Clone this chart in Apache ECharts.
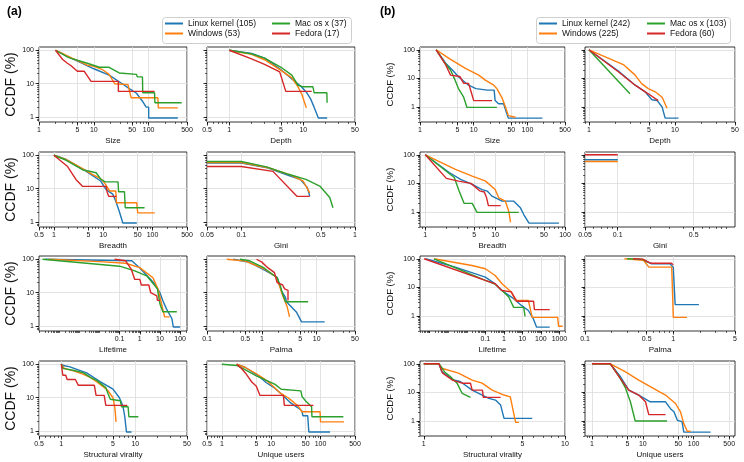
<!DOCTYPE html>
<html lang="en">
<head>
<meta charset="UTF-8" />
<title>CCDF</title>
<script src="https://cdn.jsdelivr.net/npm/echarts@6/dist/echarts.min.js"></script>
<style>
  html, body { margin: 0; padding: 0; background: #fff; }
  #chart { width: 744px; height: 462px; }
</style>
</head>
<body>
<div id="chart"></div>
<script>
// every panel array holds 4 curves: Linux kernel, Windows, Mac os x, Fedora
// points are [x, CCDF %]
const namesA = ["Linux kernel (105)", "Windows (53)", "Mac os x (37)", "Fedora (17)"];
const namesB = ["Linux kernel (242)", "Windows (225)", "Mac os x (103)", "Fedora (60)"];
const colors = ["#1f77b4", "#ff7f0e", "#2ca02c", "#d62728"];

const yTicks = [1, 10, 100];
const ticksSize = [1, 5, 10, 50, 100, 500];
const ticksDepthA = [0.5, 1, 5, 10, 50];
const ticksDepthB = [1, 5, 10, 50];
const ticksBreadthA = [0.5, 1, 5, 10, 50, 100, 500];
const ticksBreadthB = [1, 5, 10, 50, 100];
const ticksGiniA = [0.05, 0.1, 0.5, 1];
const ticksGiniB = [0.05, 0.1, 0.5];
const ticksLifeA = [0.1, 1, 10, 100];
const ticksLifeB = [0.1, 1, 10, 100, 1000];
const ticksPalmaA = [0.1, 0.5, 1, 5, 10, 50];
const ticksPalmaB = [0.1, 0.5, 1, 5];
const ticksSvA = [0.5, 1, 5, 10, 50];
const ticksSvB = [1, 5, 10];
const ticksUsers = [0.5, 1, 5, 10, 50, 100, 500];
const ticksUsersB = [1, 5, 10, 50, 100, 500];

// ---- panel (a)
const aSize = [
  [[2,100],[3,70],[5.4,45],[10,28],[19,18],[33,10],[45,7],[60,5.2],[77,3],[90,2],[100,2],[100,0.95],[340,0.95]],
  [[2,100],[4,58],[7.6,36],[10,33],[14,27],[19,19],[24,10],[42,9.4],[45,5.7],[48,3.8],[147,3.8],[150,1.9],[340,1.9]],
  [[2,100],[3.5,60],[7.6,41],[12.6,31],[19,31],[29,21],[60,19],[62,16],[77,16],[78,5.4],[128,5.4],[130,2.7],[400,2.7]],
  [[2,100],[2.7,53],[3.3,41],[3.8,35],[5,23.5],[6.7,23.5],[8.9,11.8],[28,11.8],[28,5.9],[128,5.9]]
];
const aDepth = [
  [[1,100],[2,80],[3,58],[5,26],[7,14],[9.5,8],[11,5.6],[12.5,3.6],[14,2],[16,0.95],[21,0.95]],
  [[1,100],[2,75],[3,52],[5,25],[7,15],[8.5,8],[9.5,5],[11,1.9]],
  [[1,100],[2,78],[3,58],[5,31],[7,18],[8.5,9],[10,8.1],[13.5,8.1],[14,5.4],[20.8,5.4],[21,2.7]],
  [[1,100],[2,55],[3,38],[4.8,22.6],[5.8,5.9],[13,5.9]]
];
const aBreadth = [
  [[1,100],[1.75,76],[3.8,39],[8.9,17],[11.5,9.4],[15.6,6.9],[18,4.2],[21,2.2],[25,0.95],[48,0.95]],
  [[1,100],[1.75,75],[3.8,40],[6,27],[8.9,20],[11,14],[13.5,8.6],[18,8.6],[18.5,3.8],[48,3.8],[50,1.9],[111,1.9]],
  [[1,100],[1.75,72],[3.8,37],[7.2,30],[9,19],[11,16],[20,16],[20.5,8.1],[27,8.1],[28,2.7],[69,2.7]],
  [[1,100],[1.9,46],[2.8,19],[3.8,11.8],[11.5,11.8],[12,8],[13,5.9],[18.7,5.9]]
];
const aGini = [
  [[0.05,58],[0.1,58],[0.17,42],[0.27,24],[0.33,19],[0.38,11],[0.4,6]],
  [[0.05,60],[0.1,60],[0.17,43],[0.27,26],[0.35,17],[0.4,7.5]],
  [[0.05,65],[0.1,65],[0.167,45],[0.26,27],[0.37,19],[0.49,12],[0.6,5.5],[0.64,2.7]],
  [[0.05,46],[0.1,46],[0.19,33],[0.31,5.9],[0.4,5.9]]
];
const aLife = [
  [[2e-5,100],[0.4,90],[1,55],[4.9,20],[10,10],[14,5.8],[21,3.3],[39,1.7],[46,0.95],[100,0.95]],
  [[3e-5,100],[0.01,85],[0.2,76],[1,56],[4.5,28],[8,13],[11.5,5.2],[17,1.9],[30,1.9]],
  [[1.5e-5,100],[0.1,62],[0.56,45],[2.2,32],[7.5,13],[10,4.6],[14,2.7],[69,2.7]],
  [[0.056,100],[0.2,90],[0.38,50],[0.56,25],[1,25],[1.2,17],[2.8,17],[3.5,10],[7,8],[7.5,5.9],[10,5.9]]
];
const aPalma = [
  [[0.3,100],[0.57,83],[1.06,50],[1.9,29],[2.3,11],[2.7,7.3],[2.8,5.4],[4.3,2.6],[5.3,1.35],[14,1.35]],
  [[0.23,100],[0.5,88],[1.1,52],[1.8,30],[2.1,16],[2.3,10],[2.5,7],[2.9,3.8],[3.2,1.9]],
  [[0.4,100],[0.6,90],[1.1,55],[1.9,28],[2.2,15],[2.4,9],[2.7,5.4],[7,5.4]],
  [[0.8,100],[1.0,82],[1.3,55],[1.7,40],[1.9,20],[2.4,17],[2.6,13],[3.0,11.8],[3.0,5.9]]
];
const aSv = [
  [[1,100],[1.1,90],[1.28,85],[2.2,55],[3.3,31],[5,18],[6.1,10],[6.8,5.7],[7.2,2.8],[7.6,0.95],[8.9,0.95]],
  [[1,100],[1.1,75],[1.5,62],[2,50],[2.5,40],[3,30],[3.6,22],[4.2,17],[5,10],[5.3,5],[5.5,1.9]],
  [[1,100],[1.05,75],[1.5,65],[2,55],[2.5,40],[3,33],[4,20],[4.3,13],[4.6,9],[6.3,8.1],[6.5,5.4],[8,5.4],[8.2,2.7],[11,2.7]],
  [[1,100],[1.05,47],[1.15,47],[1.2,35],[1.55,35],[1.7,23.5],[2.8,23.5],[2.95,11.8],[3.8,11.8],[4,5.9],[7.8,5.9]]
];
const aUsers = [
  [[2,100],[3,80],[5,50],[8,28],[12,19],[17,12],[24,7.3],[35,5],[42,4],[44,2.9],[55,2.9],[58,0.95],[156,0.95]],
  [[2,100],[3,80],[5,52],[7,38],[10,25],[15,14],[22,10],[28,7.5],[35,5.7],[42,3.8],[98,3.8],[100,1.9],[300,1.9]],
  [[1,100],[2,92],[3,68],[5,45],[8,33],[12,25],[16,18],[40,16],[42,11],[50,8],[66,5.4],[67,2.7],[290,2.7]],
  [[2,100],[2.5,75],[3,55],[3.5,40],[4,30],[5,22],[5.9,11.8],[17.7,11.8],[18.5,5.9],[72,5.9]]
];

// ---- panel (b)
const bSize = [
  [[2,100],[3,34],[4,19.6],[5.2,11.5],[8,5.8],[11,4.4],[18,3.9],[24,3.9],[25,1.7],[29,1.3],[36,1.3],[41,0.6],[44,0.41],[190,0.41]],
  [[2,100],[3.4,51],[7,22.5],[12.4,13],[16.4,8.7],[23.6,5.8],[27,4.4],[34,2],[39,1],[44,0.5],[60,0.44]],
  [[2,100],[2.76,39],[3.7,19.6],[4.5,8.7],[5.2,4.4],[6.5,2.2],[7.5,0.97],[27,0.97]],
  [[2,100],[3,30],[3.7,13],[5.5,11.7],[6.5,6.7],[8,6.7],[9,3.3],[10,1.67],[22,1.67]]
];
const bDepth = [
  [[1,100],[2.2,18],[3.45,5.8],[4.5,3.4],[5.4,1.8],[6.2,1.7],[7.1,1],[7.7,0.41],[11,0.41]],
  [[1,100],[2.55,29.5],[3.45,13],[4.1,6.6],[4.9,4.4],[5.9,3.4],[7.1,2.2],[8.1,0.9]],
  [[1,100],[3,2.9]],
  [[1,100],[2.2,17],[3.45,5.8],[4.9,2.9],[6.4,1.67]]
];
const bBreadth = [
  [[1,100],[2.2,24],[3.2,13.8],[4.7,9.2],[6.5,6.1],[7.7,5.4],[9,3.6],[12.6,2.4],[18.5,2.4],[23,1.4],[25.8,0.8],[30.5,0.41],[82,0.41]],
  [[1,100],[2.7,31],[4.7,18],[7.3,12],[10,6.1],[11.3,3.1],[14,2.4],[15.7,1.05],[16.6,0.44]],
  [[1,100],[2.6,16],[3.05,5.4],[3.6,2],[4.7,2],[5.5,0.97],[21.8,0.97]],
  [[1,100],[2,15],[3,12],[4.5,10],[6,5.5],[7,5],[7.5,3.3],[8,1.67],[12,1.67]]
];
const bGini = [
  [[0.05,67],[0.1,67]],
  [[0.05,58],[0.1,58]],
  [],
  [[0.05,100],[0.1,100]]
];
const bLife = [
  [[6e-5,100],[0.0024,51],[0.1,23],[0.34,13.4],[0.78,7.8],[2.6,4.6],[9.3,2.3],[21,1.56],[39,0.8],[58,0.41],[300,0.41]],
  [[1.7e-4,100],[0.019,58],[0.1,45],[0.34,26],[0.8,13.4],[2.6,6.8],[4.2,3.5],[21,3.5],[34,0.9],[800,0.9],[900,0.44],[1500,0.44]],
  [[1.7e-4,100],[0.1,17.5],[0.34,13],[0.8,7.8],[1.84,4.6],[3.4,2.0],[11.8,2.0],[14,0.97]],
  [[5e-5,100],[0.1,17.5],[0.34,13.4],[0.78,7.8],[2.5,7],[5,3.3],[40,3.3],[45,1.67],[300,1.67]]
];
const bPalma = [
  [[0.35,100],[0.45,92],[0.57,67],[0.92,67],[1.0,50],[1.05,2.5],[1.95,2.5]],
  [[0.28,100],[0.46,88],[0.53,51],[0.96,51],[1.0,0.9],[1.43,0.9]],
  [[0.3,100],[0.45,95],[0.52,75]],
  [[0.35,100],[0.45,97],[0.55,70],[0.95,70],[1.0,62]]
];
const bSv = [
  [[1,100],[1.28,100],[1.34,53],[1.62,27],[1.81,24],[2.2,12],[2.89,6.2],[3.22,5.4],[3.5,3.6],[3.7,1.24],[5.86,1.24]],
  [[1,100],[1.28,100],[1.34,70],[1.76,47],[2.2,27],[2.59,21],[3.05,12],[3.7,8.1],[4.1,7],[4.24,3.1],[4.47,0.9],[4.71,0.9]],
  [[1,100],[1.28,100],[1.4,53],[1.54,36],[1.72,21],[1.87,9.2],[2.14,6.7]],
  [[1,100],[1.28,100],[1.36,47],[1.59,27],[1.87,21],[2.14,21],[2.2,12],[2.6,12],[2.64,6.7],[3.5,6.7]]
];
const bUsers = [
  [[1,100],[2.3,100],[3.6,36],[5.3,12],[8.3,8.1],[14,4.7],[28,4.7],[35,2.7],[41,2.1],[48,1.05],[59,0.95],[64,0.41],[215,0.41]],
  [[1,100],[2.3,100],[4.5,53],[8.3,27],[21,10.6],[28,8.1],[44,4.1],[55,2.1],[64,0.81],[75,0.44],[87,0.44]],
  [[1,100],[2.3,100],[3.6,31],[4.5,15],[5.7,4.7],[7.1,1.0],[30,1.0]],
  [[1,100],[2.3,100],[3.6,31],[5.3,12],[8.3,8.1],[11.3,4.7],[13.1,1.67],[28,1.67]]
];

// layout of the subplots
const colLeft = { a: [39, 207], b: [420, 585] };
const colWidth = { a: [148, 148], b: [145, 150] };
const rowTop = [47, 152, 256, 361];
const rowH = 75;
const yRange = { a: [0.72, 125], b: [0.3, 125] };

const plots = [
  { p: "a", c: 0, r: 0, d: aSize, x: [1, 500], t: ticksSize, name: "Size" },
  { p: "a", c: 1, r: 0, d: aDepth, x: [0.5, 50], t: ticksDepthA, name: "Depth" },
  { p: "a", c: 0, r: 1, d: aBreadth, x: [0.5, 500], t: ticksBreadthA, name: "Breadth" },
  { p: "a", c: 1, r: 1, d: aGini, x: [0.05, 1], t: ticksGiniA, name: "Gini" },
  { p: "a", c: 0, r: 2, d: aLife, x: [1e-5, 220], t: ticksLifeA, name: "Lifetime" },
  { p: "a", c: 1, r: 2, d: aPalma, x: [0.1, 50], t: ticksPalmaA, name: "Palma" },
  { p: "a", c: 0, r: 3, d: aSv, x: [0.5, 50], t: ticksSvA, name: "Structural virality" },
  { p: "a", c: 1, r: 3, d: aUsers, x: [0.5, 500], t: ticksUsers, name: "Unique users" },
  { p: "b", c: 0, r: 0, d: bSize, x: [1, 500], t: ticksSize, name: "Size" },
  { p: "b", c: 1, r: 0, d: bDepth, x: [0.9, 50], t: ticksDepthB, name: "Depth" },
  { p: "b", c: 0, r: 1, d: bBreadth, x: [0.84, 100], t: ticksBreadthB, name: "Breadth" },
  { p: "b", c: 1, r: 1, d: bGini, x: [0.05, 1.2], t: ticksGiniB, name: "Gini" },
  { p: "b", c: 0, r: 2, d: bLife, x: [3e-5, 2000], t: ticksLifeB, name: "Lifetime" },
  { p: "b", c: 1, r: 2, d: bPalma, x: [0.1, 5], t: ticksPalmaB, name: "Palma" },
  { p: "b", c: 0, r: 3, d: bSv, x: [0.94, 10], t: ticksSvB, name: "Structural virality" },
  { p: "b", c: 1, r: 3, d: bUsers, x: [0.73, 650], t: ticksUsersB, name: "Unique users" }
];

const lg = Math.log10;
const FONT = "Liberation Sans, Arial, sans-serif";

function fmt(v) {
  return String(parseFloat(Math.pow(10, v).toPrecision(4)));
}
// log minor tick positions (m * 10^k) inside [lo, hi]
function minorTicks(lo, hi) {
  const out = [];
  for (let e = Math.floor(lg(lo)); e <= Math.ceil(lg(hi)); e++) {
    for (let m = 1; m < 10; m++) {
      const v = m * Math.pow(10, e);
      if (v >= lo && v <= hi) out.push(lg(v));
    }
  }
  return out;
}

const grid = [], xAxis = [], yAxis = [], series = [];

plots.forEach((pl, i) => {
  const yr = yRange[pl.p];
  grid.push({
    left: colLeft[pl.p][pl.c],
    top: rowTop[pl.r],
    width: colWidth[pl.p][pl.c],
    height: rowH,
    show: true,
    borderColor: "#000",
    borderWidth: 0.8,
    backgroundColor: "transparent"
  });
  const xt = pl.t.map(lg);
  const yt = yTicks.map(lg);
  // main x axis: labels, major ticks, grid lines
  xAxis.push({
    type: "value",
    gridIndex: i,
    position: "bottom",
    min: lg(pl.x[0]),
    max: lg(pl.x[1]),
    axisLine: { show: false, onZero: false },
    axisTick: { show: true, length: 3.5, customValues: xt, lineStyle: { color: "#000", width: 0.8 } },
    axisLabel: { customValues: xt, formatter: fmt, fontSize: 7, color: "#111", margin: 5, fontFamily: FONT },
    splitLine: { show: true, lineStyle: { color: "#dcdcdc", width: 0.8 } },
    name: pl.name,
    nameLocation: "middle",
    nameGap: 15,
    nameTextStyle: { fontSize: 8, color: "#111", fontFamily: FONT }
  });
  // minor ticks only
  xAxis.push({
    type: "value",
    gridIndex: i,
    position: "bottom",
    min: lg(pl.x[0]),
    max: lg(pl.x[1]),
    axisLine: { show: false, onZero: false },
    axisTick: { show: true, length: 2, customValues: minorTicks(pl.x[0], pl.x[1]), lineStyle: { color: "#000", width: 0.6 } },
    axisLabel: { show: false },
    splitLine: { show: false }
  });
  const leftCol = pl.c === 0;
  yAxis.push({
    type: "value",
    gridIndex: i,
    position: "left",
    min: lg(yr[0]),
    max: lg(yr[1]),
    axisLine: { show: false, onZero: false },
    axisTick: { show: true, length: 3.5, customValues: yt, lineStyle: { color: "#000", width: 0.8 } },
    axisLabel: { show: leftCol, customValues: yt, formatter: fmt, fontSize: 7, color: "#111", margin: 5, fontFamily: FONT },
    splitLine: { show: true, lineStyle: { color: "#dcdcdc", width: 0.8 } },
    name: leftCol ? "CCDF (%)" : "",
    nameLocation: "middle",
    nameGap: pl.p === "a" ? 20 : 25,
    nameTextStyle: { fontSize: pl.p === "a" ? 14 : 9.5, color: "#111", fontFamily: FONT }
  });
  yAxis.push({
    type: "value",
    gridIndex: i,
    position: "left",
    min: lg(yr[0]),
    max: lg(yr[1]),
    axisLine: { show: false, onZero: false },
    axisTick: { show: true, length: 2, customValues: minorTicks(yr[0], yr[1]), lineStyle: { color: "#000", width: 0.6 } },
    axisLabel: { show: false },
    splitLine: { show: false }
  });
  const names = pl.p === "a" ? namesA : namesB;
  pl.d.forEach((curve, k) => {
    series.push({
      type: "line",
      name: names[k],
      xAxisIndex: 2 * i,
      yAxisIndex: 2 * i,
      data: curve.map(pt => [lg(pt[0]), lg(pt[1])]),
      symbol: "none",
      color: colors[k],
      lineStyle: { width: 1.4, color: colors[k] },
      clip: true
    });
  });
});

function legendCol(left, names) {
  return {
    orient: "vertical",
    left: left,
    top: 19,
    padding: 0,
    itemGap: 1,
    itemWidth: 18,
    itemHeight: 2,
    icon: "rect",
    data: names,
    textStyle: { fontSize: 8.5, color: "#111", fontFamily: FONT },
    selectedMode: false
  };
}

const chart = echarts.init(document.getElementById("chart"));
chart.setOption({
  animation: false,
  textStyle: { fontFamily: FONT },
  title: [
    { text: "(a)", left: 2, top: 1, textStyle: { fontSize: 12, fontWeight: "bold", color: "#000", fontFamily: FONT } },
    { text: "(b)", left: 375, top: 1, textStyle: { fontSize: 12, fontWeight: "bold", color: "#000", fontFamily: FONT } }
  ],
  graphic: [
    { type: "rect", left: 162, top: 17, z: -1, shape: { width: 189, height: 26, r: 3 }, style: { fill: "#fff", stroke: "#cfcfcf", lineWidth: 1 } },
    { type: "rect", left: 536, top: 17, z: -1, shape: { width: 194, height: 26, r: 3 }, style: { fill: "#fff", stroke: "#cfcfcf", lineWidth: 1 } }
  ],
  legend: [
    legendCol(165, [namesA[0], namesA[1]]),
    legendCol(272, [namesA[2], namesA[3]]),
    legendCol(539, [namesB[0], namesB[1]]),
    legendCol(647, [namesB[2], namesB[3]])
  ],
  grid: grid,
  xAxis: xAxis,
  yAxis: yAxis,
  series: series
});
</script>
</body>
</html>
